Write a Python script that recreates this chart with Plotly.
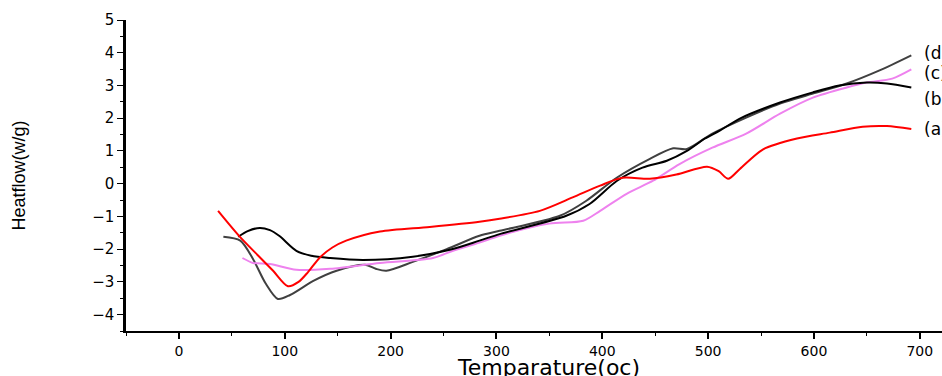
import plotly.graph_objects as go

# (a) red
a_x = [37, 57, 75, 89, 103, 113, 122, 133, 145, 158, 190, 237, 284, 303, 341, 372, 398, 419, 445, 470, 499, 510, 519, 530, 552, 584, 615, 646, 669, 692]
a_y = [-0.83, -1.6, -2.2, -2.66, -3.13, -3.0, -2.7, -2.26, -1.95, -1.74, -1.46, -1.32, -1.16, -1.07, -0.83, -0.42, -0.06, 0.18, 0.15, 0.28, 0.52, 0.38, 0.15, 0.45, 1.05, 1.38, 1.56, 1.74, 1.76, 1.67]
# (b) black
b_x = [56, 65, 76.5, 86, 95, 111, 125, 143, 174, 221, 256, 284, 303, 366, 388, 414, 438, 461, 480, 497, 511, 530, 568, 599, 624, 650, 669, 692]
b_y = [-1.62, -1.45, -1.35, -1.42, -1.6, -2.05, -2.2, -2.27, -2.33, -2.23, -2.02, -1.74, -1.54, -0.98, -0.62, 0.09, 0.49, 0.7, 1.0, 1.38, 1.62, 1.99, 2.48, 2.79, 3.0, 3.09, 3.06, 2.94]
# (c) violet
c_x = [60, 70, 86, 111, 143, 190, 240, 259, 284, 303, 350, 382, 398, 423, 448, 473, 504, 536, 568, 599, 631, 650, 674, 692]
c_y = [-2.27, -2.42, -2.45, -2.63, -2.6, -2.42, -2.27, -2.05, -1.8, -1.59, -1.22, -1.13, -0.83, -0.31, 0.09, 0.6, 1.1, 1.53, 2.14, 2.63, 2.94, 3.09, 3.21, 3.49]
# (d) dark gray
d_x = [42, 58, 70, 82, 93.5, 105, 127, 149, 176, 186, 196, 221, 253, 284, 303, 360, 385, 414, 445, 467, 480, 504, 536, 568, 599, 631, 662, 692]
d_y = [-1.62, -1.74, -2.3, -3.05, -3.52, -3.4, -2.97, -2.66, -2.48, -2.6, -2.66, -2.39, -2.0, -1.59, -1.44, -0.98, -0.52, 0.19, 0.76, 1.08, 1.06, 1.53, 2.02, 2.45, 2.75, 3.06, 3.46, 3.92]

labels = ["(d)", "(c)", "(b)", "(a)"]
label_y = [4.0, 3.37, 2.6, 1.68]
label_x = 702

fig = go.Figure()
series = [(d_x, d_y, "#404040"), (c_x, c_y, "#EE82EE"), (b_x, b_y, "#000000"), (a_x, a_y, "#FF0000")]
for xs, ys, col in series:
    fig.add_trace(go.Scatter(x=xs, y=ys, mode="lines", line=dict(color=col, width=2, shape="spline", smoothing=0.8), showlegend=False))

for t, yy in zip(labels, label_y):
    fig.add_annotation(x=label_x, y=yy, text=t, showarrow=False, xanchor="left", yanchor="middle",
                       font=dict(family="DejaVu Sans", size=17, color="black"))

# x-axis title placed as paper annotation (sits partly below the visible page, as in the reference)
fig.add_annotation(xref="paper", yref="paper", x=0.518, y=-0.118, text="Temparature(oc)", showarrow=False,
                   xanchor="center", yanchor="middle", font=dict(family="DejaVu Sans", size=22, color="black"))

fig.update_layout(
    width=942, height=376,
    margin=dict(l=126, r=0, t=20, b=45),
    plot_bgcolor="white", paper_bgcolor="white",
    font=dict(family="DejaVu Sans", color="black"),
    xaxis=dict(range=[-50, 721], tickvals=[0, 100, 200, 300, 400, 500, 600, 700], automargin=False,
               ticks="outside", ticklen=6, tickwidth=2, tickcolor="black",
               minor=dict(tickvals=[-50, 50, 150, 250, 350, 450, 550, 650], ticks="outside", ticklen=3, tickwidth=1, tickcolor="black"),
               showline=True, linecolor="black", linewidth=1.5, showgrid=False, zeroline=False,
               tickfont=dict(size=14)),
    yaxis=dict(range=[-4.5, 5], tickvals=[-4, -3, -2, -1, 0, 1, 2, 3, 4, 5], automargin=False,
               ticks="outside", ticklen=6, tickwidth=1, tickcolor="black",
               minor=dict(tickvals=[-4.5, -3.5, -2.5, -1.5, -0.5, 0.5, 1.5, 2.5, 3.5, 4.5], ticks="outside", ticklen=3, tickwidth=1, tickcolor="black"),
               showline=True, linecolor="black", linewidth=2.5, showgrid=False, zeroline=False,
               tickfont=dict(size=15), title=dict(text="Heatflow(w/g)", font=dict(family="Liberation Sans", size=18), standoff=62)),
)

fig.write_html("out.html", config={"displayModeBar": False},
               post_script="document.body.style.margin='0';document.body.style.overflow='hidden';")
